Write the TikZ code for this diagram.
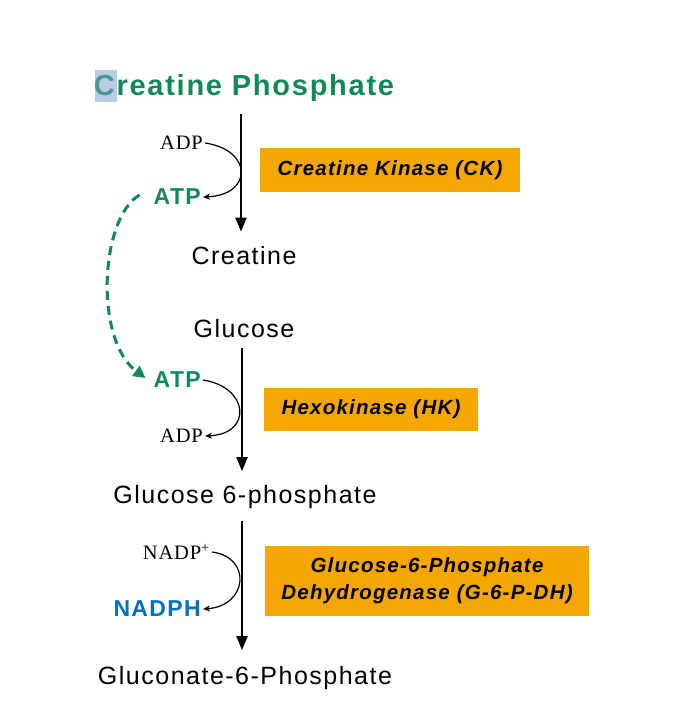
\documentclass[tikz,border=0pt]{standalone}
\usepackage{fontspec}
\setmainfont[LetterSpace=6]{Liberation Sans}
\newfontfamily\timesfont[LetterSpace=4]{Liberation Serif}
\usetikzlibrary{arrows.meta}
\definecolor{MetabGreen}{RGB}{16,136,90}
\definecolor{MetabBlue}{RGB}{0,112,192}
\definecolor{EnzymeOrange}{RGB}{245,166,0}
\definecolor{SelectBlue}{RGB}{120,165,205}

\begin{document}
\begin{tikzpicture}[x=1pt,y=-1pt,
  metab/.style={inner sep=0pt,font=\fontsize{25}{28}\selectfont},
  cofac/.style={inner sep=2pt,font=\timesfont\fontsize{20.5}{22}\selectfont},
  energy/.style={inner sep=2pt,text=#1,font=\bfseries\fontsize{23}{24}\selectfont},
  enzyme/.style 2 args={fill=EnzymeOrange,minimum width=#1pt,minimum height=#2pt,align=center,inner sep=0pt,font=\bfseries\itshape\fontsize{20.5}{27}\selectfont},
  main/.style={line width=2pt,-{Triangle[length=14pt,width=11pt]}},
  turn/.style={line width=1.2pt,-{Stealth[length=7pt,width=6pt]}}]
\useasboundingbox (0,0) rectangle (698,712);
% metabolites
\node[metab,font=\bfseries\fontsize{29}{32}\selectfont,text=MetabGreen] (cp) at (244,88) {Creatine Phosphate};
\fill[SelectBlue,fill opacity=0.55] (95,70) rectangle (117,102);
\node[metab] (cr) at (244,256) {Creatine};
\node[metab] (glc) at (244,329) {Glucose};
\node[metab] (g6p) at (245,497) {Glucose 6-phosphate};
\node[metab] (gn6p) at (245,678) {Gluconate-6-Phosphate};
% cofactors
\node[cofac,anchor=east] (adpA) at (205,143) {ADP};
\node[energy=MetabGreen,anchor=east] (atpA) at (203,197) {ATP};
\node[energy=MetabGreen,anchor=east] (atpB) at (203,380) {ATP};
\node[cofac,anchor=east] (adpB) at (205,436) {ADP};
\node[cofac,anchor=east] (nadp) at (212,552) {NADP\textsuperscript{+}};
\node[energy=MetabBlue,anchor=east] (nadph) at (203,609) {NADPH};
% enzymes
\node[enzyme={260}{44}] (ck) at (390,170) {Creatine Kinase (CK)};
\node[enzyme={214}{43}] (hk) at (371,409.5) {Hexokinase (HK)};
\node[enzyme={324}{70}] (gpd) at (427,581) {Glucose-6-Phosphate\\Dehydrogenase (G-6-P-DH)};
% main steps
\draw[main,shorten <=12pt,shorten >=15pt] ([xshift=-3pt]cp.south) -- ([xshift=-3pt]cr.north);
\draw[main,shorten <=10pt,shorten >=14pt] ([xshift=-2pt]glc.south) -- ([xshift=-3pt]g6p.north);
\draw[main,shorten <=12pt,shorten >=16pt] ([xshift=-3pt]g6p.south) -- ([xshift=-3pt]gn6p.north);
% coupled reactions
\draw[turn] (adpA.east) .. controls +(48,7) and +(50,-2) .. (atpA.east);
\draw[turn] (atpB.east) .. controls +(46,7) and +(48,-2) .. (adpB.east);
\draw[turn] (nadp.east) .. controls +(40,5) and +(45,-3) .. (nadph.east);
% ATP transfer
\draw[MetabGreen,line width=3pt,dash pattern=on 9pt off 6pt,-{Triangle[length=12pt,width=12pt]}]
  ([xshift=-12pt,yshift=2pt]atpA.west) .. controls (100,218) and (94,340) .. ([xshift=-6pt,yshift=2pt]atpB.west);
\end{tikzpicture}
\end{document}
